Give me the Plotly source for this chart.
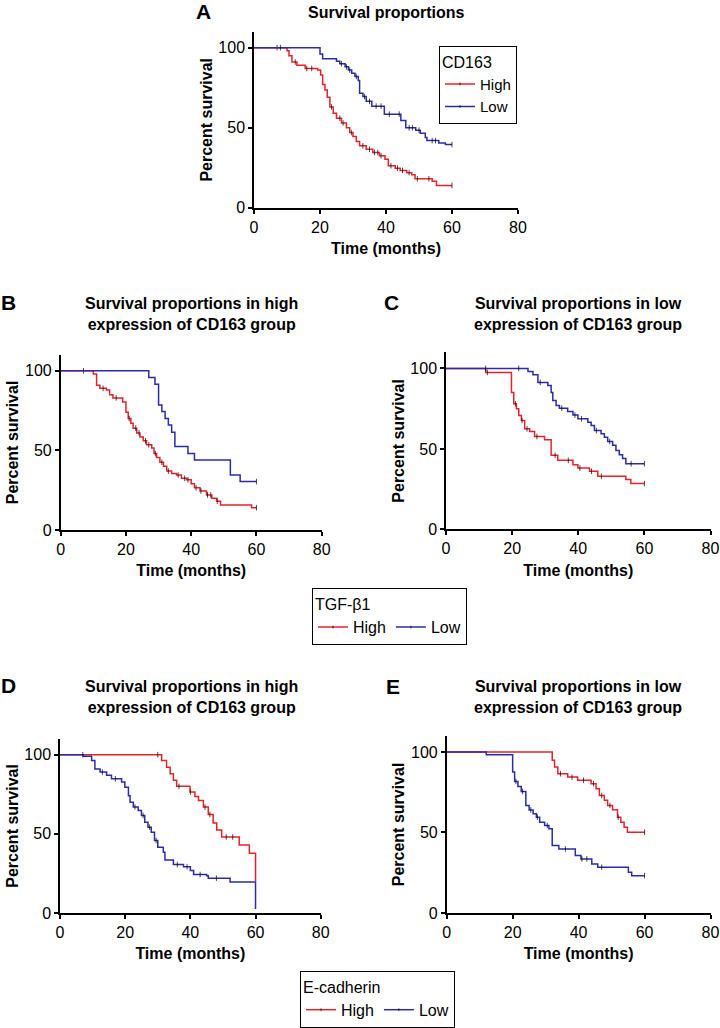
import plotly.graph_objects as go

# ---------------- data ----------------
# Panel A: CD163 groups
A_high_t = [10, 10.6, 11.5, 13, 15.5, 19.3, 20.2, 20.8, 21.5, 22.2, 23, 24, 25, 26.5, 28, 29, 30, 31, 32, 34, 36, 38, 39.7, 40.7, 42.8, 44.3, 46.3, 47.8, 48.8, 54, 55.3]
A_high_s = [98, 95, 91, 89, 87, 86, 83, 77, 73.5, 69, 63, 59, 56, 53, 50, 47, 44.5, 41.5, 38.7, 36.6, 34.6, 32.5, 30.4, 26.3, 24.8, 23.4, 22, 20.7, 18.2, 16.6, 14]
A_high_c = [7, 12.5, 16, 17.5, 23.5, 26, 27, 29.5, 33, 35, 36.5, 37.5, 38.5, 41.5, 43.5, 45, 47, 49.5, 53, 60]
A_low_t = [20, 20.8, 25, 26, 27.6, 28.6, 29.6, 30.6, 31.6, 32, 33, 34, 35.7, 39.5, 44.5, 46, 49, 50.4, 51.9, 52.4, 56, 58]
A_low_s = [96, 93, 91.5, 90, 88, 86, 84, 82, 79.5, 71.5, 69.5, 66.5, 63.5, 58.5, 54.5, 50, 48.5, 46.5, 44, 42, 40.5, 39.5]
A_low_c = [8, 26.5, 28, 29, 31, 33.5, 35, 37, 38.5, 41, 44, 47, 48, 50, 54, 55, 60]

# Panel B: TGF-b1 in high CD163
B_high_t = [10, 11, 12, 14, 15, 16, 19, 20, 20.7, 21.5, 22.2, 23.3, 24.3, 25.3, 26.3, 27.9, 28.6, 29.4, 30.4, 31.5, 32.5, 34, 35.5, 37, 38.6, 40, 41, 42.7, 44.7, 46.3, 47.8, 49, 58.5]
B_high_s = [98, 91, 89, 88, 85, 83, 80.5, 74, 70, 67, 64, 61, 58.5, 56, 53.5, 51.5, 48, 45.5, 42.5, 40, 37, 35.5, 34.5, 32.5, 31.5, 29, 26.5, 24.5, 22, 20, 18, 15.7, 14]
B_high_c = [7, 13, 17, 21, 23, 24, 26, 27, 29, 31, 33, 36, 38, 39, 41.5, 43, 45, 46, 48, 60]
B_low_t = [27, 28.9, 30, 31, 32, 33, 34, 35, 39, 41, 52, 55]
B_low_s = [95.8, 91.6, 78.6, 74.4, 70, 66, 61.4, 52.4, 48, 44, 34.6, 30.4]
B_low_c = [60]

# Panel C: TGF-b1 in low CD163
C_high_t = [12, 19.8, 20.5, 21.3, 22, 22.8, 23.8, 25.3, 26.8, 29.8, 31.8, 33.8, 38.4, 39.9, 43.4, 45.9, 54.4, 55.9]
C_high_s = [97.5, 85, 78, 75, 70.7, 67.6, 62.5, 60.8, 57.7, 55.7, 46, 42.9, 40.2, 38.1, 36.1, 33, 31, 28.5]
C_high_c = [12.5, 21, 23, 24.5, 27.5, 33, 37, 40.5, 44, 47, 60]
C_low_t = [24.8, 26.3, 27.8, 30.8, 31.8, 32.3, 33.3, 34.3, 36.8, 38.4, 39.9, 42.9, 43.9, 44.9, 46.9, 47.9, 48.9, 50.4, 51.4, 52.4, 53.4, 54.4]
C_low_s = [98, 96, 91.3, 89.3, 85, 80, 77, 75.3, 73.2, 71, 68.7, 66.6, 64.5, 61.4, 59.4, 57.3, 54.6, 52.2, 49, 46.4, 44, 40.8]
C_low_c = [12, 22, 28.5, 35, 39, 41, 45.5, 49.5, 56, 60]

# Panel D: E-cadherin in high CD163
D_high_t = [31.2, 32.7, 33.8, 34.8, 35.8, 39.9, 41.4, 42.5, 44, 45.5, 47, 48.1, 49.6, 55, 58.1, 60]
D_high_s = [96.4, 92, 88, 83.8, 80, 76.4, 73.6, 71, 66.9, 62.2, 56.8, 52.5, 48, 43, 37.8, 20]
D_high_c = [30, 36.5, 40, 44.5, 46, 51, 53]
D_low_t = [7.2, 9.7, 10.7, 12.3, 14.3, 15.8, 18.9, 19.9, 21, 21.5, 22.5, 24, 25, 26, 27, 28, 29, 30, 31.7, 32.2, 34.8, 37.9, 40, 41, 45, 45.5, 52.2, 60]
D_low_s = [99, 96.4, 91, 89, 87, 84.8, 82.7, 79.5, 74, 70, 67, 64.8, 61.6, 57.4, 54.2, 51, 45.8, 41.6, 38.4, 33.5, 30.6, 29.3, 26.8, 24.3, 23.6, 22, 19.6, 2.5]
D_low_c = [7, 13, 17, 23, 25.5, 27.5, 29.5, 36, 39, 43, 48]

# Panel E: E-cadherin in low CD163
E_high_t = [32, 32.7, 33.7, 36.7, 39.7, 43.8, 45.3, 46.3, 47.8, 48.8, 50.3, 51.8, 52.8, 53.8, 54.8]
E_high_s = [94.8, 90.7, 86.5, 84.4, 82.4, 80.3, 77.2, 73, 70, 66.8, 64.1, 59.5, 56.4, 53.3, 50.2]
E_high_c = [34.5, 38, 41.5, 44.5, 47, 49.5, 52, 60]
E_low_t = [12, 20, 20.6, 21.6, 22.6, 24, 25, 26.2, 27.2, 28.2, 29.7, 31, 32, 34, 39, 40.7, 44, 45.8, 55.1, 56.1]
E_low_s = [98.3, 87.6, 81.7, 78.6, 75.5, 66.8, 64, 61.6, 59.5, 56.4, 54.4, 52.3, 42, 39.8, 35.7, 33.6, 30.5, 28.4, 25.3, 23.2]
E_low_c = [21, 23, 25.5, 27.5, 30.5, 36, 41, 42.5, 47, 60]

x_ticks = [0, 20, 40, 60, 80]
y_ticks = [0, 50, 100]
group_names = ["High", "Low"]

# ---------------- styling ----------------
RED = "#e3232b"
BLUE = "#2b2ca6"
FONT = "Liberation Sans, Arial, sans-serif"
W, H = 720, 1028


def px_x(p):
    return p / W


def px_y(p):
    return 1 - p / H


def km_points(t, s, c):
    """Merge events and censor times into a step trace (with censor tick sizes)."""
    pts = [(0.0, 100.0, 0)]
    for ti, si in zip(t, s):
        pts.append((ti, si, 0))
    for tc in c:
        val = 100.0
        for ti, si in zip(t, s):
            if ti <= tc:
                val = si
        pts.append((tc, val, 4))
    pts.sort(key=lambda p: (p[0], -p[1]))
    return [p[0] for p in pts], [p[1] for p in pts], [p[2] for p in pts]


fig = go.Figure()

panels = {
    "A": dict(x=(254, 518), y=(208.5, 31.7), data=[(A_high_t, A_high_s, A_high_c), (A_low_t, A_low_s, A_low_c)],
              legend="legend", show=True),
    "B": dict(x=(60.7, 321.7), y=(531.5, 356), data=[(B_high_t, B_high_s, B_high_c), (B_low_t, B_low_s, B_low_c)],
              legend="legend2", show=True),
    "C": dict(x=(446, 710.5), y=(531, 353.3), data=[(C_high_t, C_high_s, C_high_c), (C_low_t, C_low_s, C_low_c)],
              legend="legend2", show=False),
    "D": dict(x=(60, 320.7), y=(915.7, 741), data=[(D_high_t, D_high_s, D_high_c), (D_low_t, D_low_s, D_low_c)],
              legend="legend3", show=True),
    "E": dict(x=(446.7, 710.5), y=(915.7, 738), data=[(E_high_t, E_high_s, E_high_c), (E_low_t, E_low_s, E_low_c)],
              legend="legend3", show=False),
}

axis_common = dict(showline=True, linecolor="black", linewidth=1.5, ticks="outside", ticklen=4,
                   tickwidth=1.5, tickcolor="black", showgrid=False, zeroline=False,
                   ticklabeloverflow="allow",
                   tickfont=dict(family=FONT, size=16, color="black"))

for i, (key, p) in enumerate(panels.items()):
    n = "" if i == 0 else str(i + 1)
    xa, ya = "x" + n, "y" + n
    for (t, s, c), name, col in zip(p["data"], group_names, [RED, BLUE]):
        xs, ys, ms = km_points(t, s, c)
        fig.add_trace(go.Scatter(
            x=xs, y=ys, mode="lines+markers", line=dict(color=col, width=1.5, shape="hv"),
            marker=dict(symbol="line-ns", size=ms, color="black", line=dict(color="black", width=1)),
            name=name, legend=p["legend"], showlegend=p["show"], xaxis=xa, yaxis=ya,
            cliponaxis=False, hoverinfo="skip"))
    fig.layout["xaxis" + n] = dict(axis_common, domain=[px_x(p["x"][0]), px_x(p["x"][1])], range=[0, 80],
                                   tickvals=x_ticks, anchor=ya,
                                   title=dict(text="<b>Time (months)</b>", standoff=8,
                                              font=dict(family=FONT, size=16, color="black")))
    fig.layout["yaxis" + n] = dict(axis_common, domain=[px_y(p["y"][0]), px_y(p["y"][1])], range=[0, 110],
                                   tickvals=y_ticks, anchor=xa,
                                   title=dict(text="<b>Percent survival</b>", standoff=2,
                                              font=dict(family=FONT, size=16, color="black")))

# panel titles and letters
titles = [
    ("Survival proportions", 386, 13),
    ("Survival proportions in high<br>expression of CD163 group", 191, 315),
    ("Survival proportions in low<br>expression of CD163 group", 578, 315),
    ("Survival proportions in high<br>expression of CD163 group", 191, 699),
    ("Survival proportions in low<br>expression of CD163 group", 578, 699),
]
for txt, cx, cy in titles:
    fig.add_annotation(text="<b>" + txt + "</b>", x=px_x(cx), y=px_y(cy), xref="paper", yref="paper",
                       showarrow=False, xanchor="center", yanchor="middle",
                       font=dict(family=FONT, size=16, color="black"))

letters = [("A", 203, 12), ("B", 8, 303), ("C", 392, 303), ("D", 8, 688), ("E", 393, 689)]
for txt, cx, cy in letters:
    fig.add_annotation(text="<b>" + txt + "</b>", x=px_x(cx), y=px_y(cy), xref="paper", yref="paper",
                       showarrow=False, xanchor="center", yanchor="middle",
                       font=dict(family=FONT, size=21, color="black"))

legend_common = dict(bordercolor="black", borderwidth=1, bgcolor="white", itemwidth=30,
                     font=dict(family=FONT, size=16, color="black"), xanchor="left", yanchor="top",
                     tracegroupgap=0)
fig.update_layout(
    width=W, height=H, margin=dict(l=0, r=0, t=0, b=0),
    paper_bgcolor="white", plot_bgcolor="white", template="none",
    font=dict(family=FONT, color="black"),
    legend=dict(legend_common, x=px_x(439), y=px_y(46), orientation="v",
                font=dict(family=FONT, size=15, color="black"),
                title=dict(text="CD163", font=dict(family=FONT, size=16))),
    legend2=dict(legend_common, x=px_x(312), y=px_y(590), orientation="h",
                 title=dict(text="TGF-β1", side="top", font=dict(family=FONT, size=16))),
    legend3=dict(legend_common, x=px_x(300), y=px_y(974), orientation="h",
                 title=dict(text="E-cadherin", side="top", font=dict(family=FONT, size=16))),
)

# remove the default 8px page margin so the 720x1028 figure fills the window exactly
fig.write_html("out.html", config={"displayModeBar": False},
               post_script="document.body.style.margin='0';document.body.style.overflow='hidden';")
